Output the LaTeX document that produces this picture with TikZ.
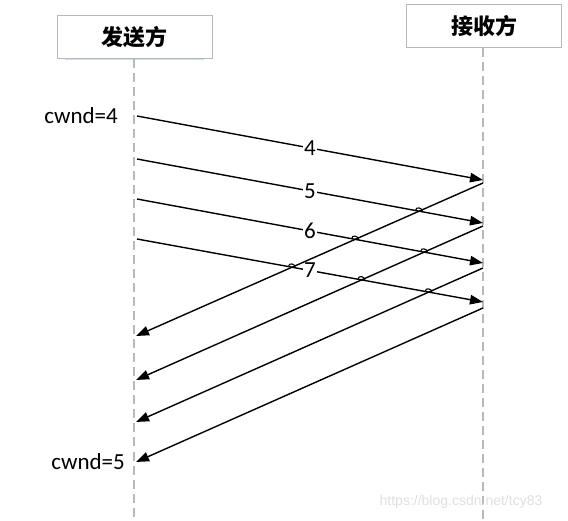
\documentclass[tikz,border=0pt]{standalone}
\usepackage{fontspec}
\setmainfont{Carlito}
\newfontfamily\cjk{Noto Sans CJK SC}
\newfontfamily\wm{Liberation Sans}
\usetikzlibrary{arrows.meta,shadows,intersections}
\definecolor{shadowblue}{RGB}{190,215,245}
\begin{document}
\begin{tikzpicture}[x=1pt,y=-1pt,
  party/.style={draw=gray!55, line width=1pt, fill=white, minimum width=155pt, minimum height=43pt, inner sep=0pt,
    font=\cjk\bfseries\fontsize{22}{26}\selectfont,
    drop shadow={shadow xshift=0pt, shadow yshift=-3.5pt, shadow scale=0.9, fill=shadowblue, opacity=0.8}},
  lifeline/.style={draw=gray!55, line width=1.5pt, dash pattern=on 9pt off 5pt},
  msg/.style={line width=1.4pt, -{Triangle[length=13pt,width=9.5pt]}},
  num/.style={fill=white, inner sep=1pt, font=\fontsize{23}{26}\selectfont},
  cw/.style={anchor=east, inner sep=0pt, font=\fontsize{23}{26}\selectfont},
  hop/.style={line width=1.1pt},
  hopat/.style={insert path={([shift={(-3.5,-0.65)}]#1) .. controls ([shift={(-3.5,-5)}]#1) and ([shift={(3.5,-3.7)}]#1) .. ([shift={(3.5,0.65)}]#1)}}]
\useasboundingbox (0,0) rectangle (568,521);
% parties
\node[party] (snd) at (134.5,37.5) {发送方};
\node[party] (rcv) at (484,26) {接收方};
\coordinate (sndend) at (134,521);
\coordinate (rcvend) at (483,521);
\draw[lifeline] (snd.south -| sndend) -- (sndend);
\draw[lifeline] (rcv.south -| rcvend) -- (rcvend);
% forward coordinates
\coordinate (s4) at (137,116); \coordinate (e4) at (483,180);
\coordinate (s5) at (137,159); \coordinate (e5) at (483,223);
\coordinate (s6) at (137,199); \coordinate (e6) at (483,263);
\coordinate (s7) at (137,239); \coordinate (e7) at (483,302);
% return coordinates
\coordinate (r1) at (483,183); \coordinate (a1) at (136,336);
\coordinate (r2) at (483,226); \coordinate (a2) at (136,380);
\coordinate (r3) at (483,268); \coordinate (a3) at (136,422);
\coordinate (r4) at (483,308); \coordinate (a4) at (136,462);
% forward arrows
\draw[msg, name path=f4] (s4) -- (e4) node[num, midway] {4};
\draw[msg, name path=f5] (s5) -- (e5) node[num, midway] {5};
\draw[msg, name path=f6] (s6) -- (e6) node[num, midway] {6};
\draw[msg, name path=f7] (s7) -- (e7) node[num, midway] {7};
% return arrows
\draw[msg, name path=b1] (r1) -- (a1);
\draw[msg, name path=b2] (r2) -- (a2);
\draw[msg, name path=b3] (r3) -- (a3);
\draw[msg, name path=b4] (r4) -- (a4);
% hops
\path[name intersections={of=f5 and b1, by=h51}];
\path[name intersections={of=f6 and b1, by=h61}];
\path[name intersections={of=f7 and b1, by=h71}];
\path[name intersections={of=f6 and b2, by=h62}];
\path[name intersections={of=f7 and b2, by=h72}];
\path[name intersections={of=f7 and b3, by=h73}];
\draw[hop, hopat=h51];
\draw[hop, hopat=h61];
\draw[hop, hopat=h71];
\draw[hop, hopat=h62];
\draw[hop, hopat=h72];
\draw[hop, hopat=h73];
% cwnd labels
\node[cw] (cw4) at (118,116) {cwnd=4};
\node[cw] (cw5) at (125,462) {cwnd=5};
% watermark
\node[font=\wm\fontsize{14}{16}\selectfont, text=gray!25, inner sep=0pt] (wm) at (461,502) {https://blog.csdn.net/tcy83};
\end{tikzpicture}
\end{document}
